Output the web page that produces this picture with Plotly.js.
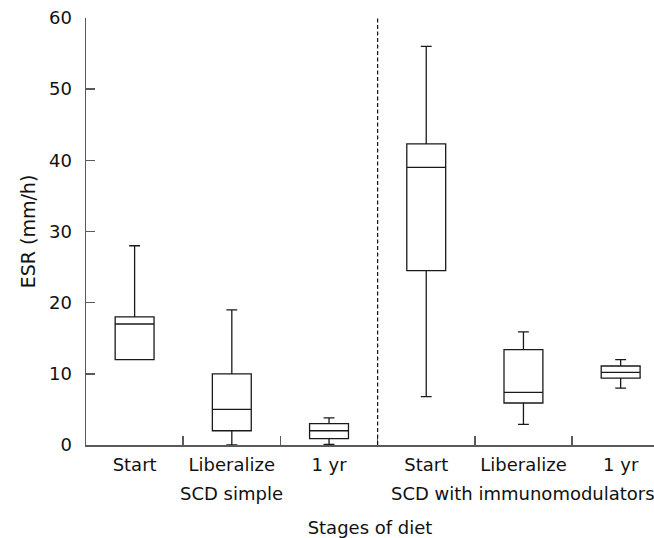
<!DOCTYPE html>
<html>
<head>
<meta charset="utf-8">
<script src="https://cdn.plot.ly/plotly-3.0.1.min.js"></script>
<style>
  html, body { margin: 0; padding: 0; background: #fff; }
  #chart { width: 654px; height: 538px; }
</style>
</head>
<body>
<div id="chart"></div>
<script>
// ESR by stage of the specific carbohydrate diet (SCD), two patient groups
const groups = ['SCD simple', 'SCD simple', 'SCD simple',
                'SCD with immunomodulators', 'SCD with immunomodulators', 'SCD with immunomodulators'];
const stages = ['Start', 'Liberalize', '1 yr', 'Start', 'Liberalize', '1 yr'];

// Box summaries (mm/h)
const lowerWhisker = [12, 0, 0.1, 6.8, 2.9, 8.0];
const q1Values     = [12, 2, 0.9, 24.5, 5.9, 9.4];
const medianValues = [17, 5, 2.0, 39.0, 7.4, 10.2];
const q3Values     = [18, 10, 3.0, 42.3, 13.4, 11.1];
const upperWhisker = [28, 19, 3.8, 56, 15.9, 12.0];

const yTicks = [0, 10, 20, 30, 40, 50, 60];

const FONT = 'DejaVu Sans, Verdana, sans-serif';
const FONT_SIZE = 18;
const AXIS_COLOR = '#5a5a5a';
const TEXT_COLOR = '#111';

// one slot per stage, in order
const positions = stages.map((_, i) => i);
// tick marks sit on the slot boundaries
const boundaries = positions.slice(0, -1).map(p => p + 0.5);

// group names and their centres
const groupNames = [...new Set(groups)];
const groupCentres = groupNames.map(name => {
  const idx = positions.filter(i => groups[i] === name);
  return idx.reduce((a, b) => a + b, 0) / idx.length;
});
// divider between the two groups
const lastOfFirst = positions.filter(i => groups[i] === groupNames[0]).pop();
const divider = lastOfFirst + 0.5;

const xRange = [-0.5, 5.343];

const box = {
  type: 'box',
  x: positions,
  q1: q1Values,
  median: medianValues,
  q3: q3Values,
  lowerfence: lowerWhisker,
  upperfence: upperWhisker,
  width: 0.4,
  whiskerwidth: 0.28,
  boxpoints: false,
  fillcolor: 'rgba(255,255,255,0)',
  line: { color: '#1a1a1a', width: 1.3 },
  hoverinfo: 'skip',
  showlegend: false,
  xaxis: 'x',
  yaxis: 'y'
};

// empty trace that keeps the label axis alive
const labelCarrier = {
  type: 'scatter',
  x: [],
  y: [],
  xaxis: 'x2',
  yaxis: 'y',
  showlegend: false,
  hoverinfo: 'skip'
};

const textFont = { family: FONT, size: FONT_SIZE, color: TEXT_COLOR };

const layout = {
  width: 654,
  height: 538,
  margin: { l: 86, r: 0, t: 18, b: 93 },
  paper_bgcolor: '#fff',
  plot_bgcolor: '#fff',
  font: textFont,
  xaxis: {
    range: xRange,
    tickmode: 'array',
    tickvals: boundaries,
    showticklabels: false,
    showline: true,
    linecolor: AXIS_COLOR,
    linewidth: 1.5,
    ticks: 'inside',
    ticklen: 9,
    tickwidth: 1.5,
    tickcolor: AXIS_COLOR,
    showgrid: false,
    zeroline: false,
    automargin: false,
    title: { text: 'Stages of diet', standoff: 76, font: textFont }
  },
  xaxis2: {
    overlaying: 'x',
    anchor: 'y',
    side: 'bottom',
    range: xRange,
    tickmode: 'array',
    tickvals: positions,
    ticktext: stages,
    ticks: '',
    showline: false,
    showgrid: false,
    zeroline: false,
    automargin: false,
    ticklabelstandoff: 7,
    tickfont: textFont
  },
  yaxis: {
    range: [0, 60],
    tickmode: 'array',
    tickvals: yTicks,
    ticktext: yTicks.map(String),
    showline: true,
    linecolor: AXIS_COLOR,
    linewidth: 1.5,
    ticks: 'inside',
    ticklen: 9,
    tickwidth: 1.5,
    tickcolor: AXIS_COLOR,
    ticklabelstandoff: 9,
    showgrid: false,
    zeroline: false,
    automargin: false,
    tickfont: textFont,
    title: { text: 'ESR (mm/h)', standoff: 8, font: { family: FONT, size: 19, color: TEXT_COLOR } }
  },
  annotations: groupNames.map((name, k) => ({
    text: name,
    xref: 'x',
    yref: 'paper',
    x: groupCentres[k],
    y: 0,
    xanchor: 'center',
    yanchor: 'top',
    yshift: -36,
    showarrow: false,
    font: textFont
  })),
  shapes: [{
    type: 'line',
    xref: 'x',
    yref: 'paper',
    x0: divider, x1: divider,
    y0: 0, y1: 1,
    line: { color: '#111', width: 1.2, dash: '4px,2.5px' }
  }]
};

Plotly.newPlot('chart', [box, labelCarrier], layout, { displayModeBar: false, staticPlot: true });
</script>
</body>
</html>
